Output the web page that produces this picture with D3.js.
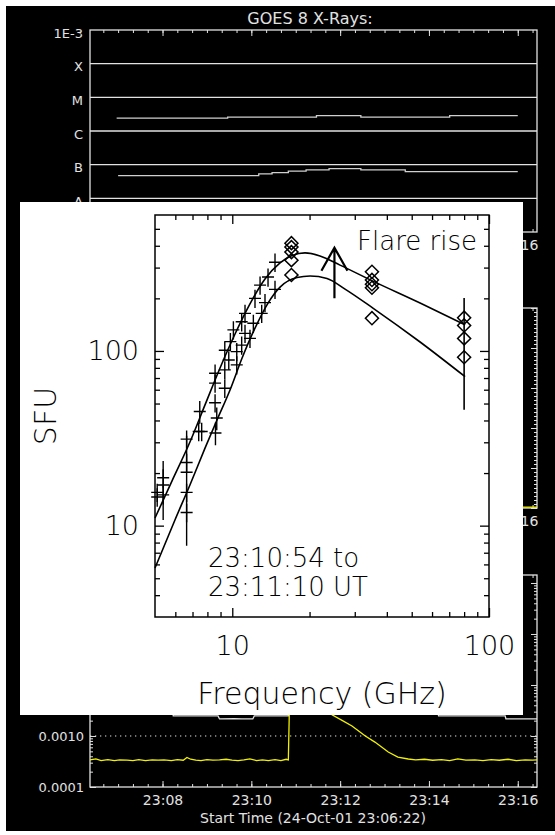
<!DOCTYPE html>
<html>
<head>
<meta charset="utf-8">
<script src="https://cdn.jsdelivr.net/npm/d3@7"></script>
<style>
  body { margin: 0; background: #fff; }
  svg { display: block; }
</style>
</head>
<body>
<div id="chart-area"></div>
<script>
const size = { width: 555, height: 835 };

// time axis: seconds after 23:06:22 UT on 24-Oct-2001
const startTime = Date.UTC(2001, 9, 24, 23, 6, 22);
const timeSpan = 604;

// GOES 8 panel
const goesLabels = ["1E-3", "X", "M", "C", "B", "A", "1E-9"];
const goesDecades = [1e-3, 1e-4, 1e-5, 1e-6, 1e-7, 1e-8, 1e-9];
const goesLongTime = [36, 186, 306, 366, 486, 578];
const goesLongFlux = [2.40e-6, 2.57e-6, 2.87e-6, 2.57e-6, 2.87e-6, 2.87e-6];
const goesShortTime = [38, 228, 246, 268, 292, 323, 366, 426, 578];
const goesShortFlux = [4.75e-8, 5.33e-8, 5.83e-8, 6.41e-8, 7.0e-8, 7.66e-8, 7.0e-8, 6.24e-8, 6.24e-8];

// middle panel (hidden behind the spectrum, only its right edge shows)
const midTime = [0, 604];
const midValue = [0.02, 0.02];

// bottom panel
const lowLabels = ["0.0001", "0.0010", "0.0100", "0.1000", "1.0000"];
const lowDecades = [1e-4, 1e-3, 1e-2, 1e-1, 1];
const yellowTime = [0, 8, 15, 24, 33, 40, 50, 58, 66, 75,
    84, 92, 100, 110, 118, 126, 131, 136, 143, 150,
    158, 166, 175, 184, 192, 200, 208, 216, 225, 233,
    241, 250, 258, 265, 268, 270, 273, 280, 300, 315,
    327, 340, 354, 372, 385, 403, 416, 430, 440, 452,
    463, 475, 486, 497, 508, 520, 531, 542, 553, 565,
    576, 588, 598, 604];
const yellowValue = [3.4e-4, 3.55e-4, 3.3e-4, 3.45e-4, 3.3e-4, 3.4e-4, 3.35e-4, 3.3e-4, 3.45e-4, 3.3e-4,
    3.4e-4, 3.35e-4, 3.4e-4, 3.3e-4, 3.45e-4, 3.35e-4, 3.8e-4, 3.5e-4, 3.35e-4, 3.3e-4,
    3.45e-4, 3.35e-4, 3.4e-4, 3.5e-4, 3.35e-4, 3.3e-4, 3.4e-4, 3.55e-4, 3.3e-4, 3.4e-4,
    3.3e-4, 3.45e-4, 3.3e-4, 3.5e-4, 3.4e-4, 9e-3, 0.04, 0.05, 0.02, 0.006,
    2.6e-3, 2.05e-3, 1.57e-3, 1.0e-3, 7.6e-4, 4.85e-4, 3.87e-4, 3.54e-4, 3.4e-4, 3.5e-4,
    3.35e-4, 3.45e-4, 3.3e-4, 3.55e-4, 3.35e-4, 3.4e-4, 3.3e-4, 3.45e-4, 3.35e-4, 3.5e-4,
    3.3e-4, 3.4e-4, 3.35e-4, 3.4e-4];
const whiteTime = [0, 60, 112, 112.5, 150, 173, 175, 195, 205, 220, 222,
    268, 270, 300, 380, 440, 470, 471, 530, 561, 562, 604];
const whiteValue = [2.95e-3, 2.9e-3, 2.9e-3, 2.47e-3, 2.47e-3, 2.47e-3, 2.16e-3, 2.2e-3, 2.16e-3, 2.16e-3, 2.47e-3,
    2.47e-3, 0.015, 0.03, 0.012, 4e-3, 3.0e-3, 2.47e-3, 2.47e-3, 2.47e-3, 2.16e-3, 2.16e-3];

// spectrum inset (GHz, SFU)
const ovsaFreq = [5.1, 5.1, 5.38, 5.38, 5.38, 6.64, 6.64, 6.64, 6.64, 6.64,
    7.47, 7.4, 7.6, 8.57, 8.57, 8.57, 8.7, 8.6, 9.35, 9.35,
    9.35, 9.69, 9.83, 10.1, 10.41, 10.41, 10.88, 10.88, 11.21, 11.21,
    11.72, 12.08, 12.26, 12.83, 13.02, 13.41, 13.78, 14.67, 14.67];
const ovsaFlux = [15.5, 14.6, 18.8, 17.1, 15.0, 31.3, 23.0, 20.2, 15.5, 11.9,
    45.0, 34.6, 34.6, 74.6, 65.4, 50.5, 41.3, 33.9, 101, 77.9,
    61.2, 88.8, 113, 132, 99.1, 83.2, 147, 108, 164, 126,
    118, 144, 200, 238, 164, 189, 265, 322, 225];
const ovsaErr = [0.12, 0.12, 0.12, 0.37, 0.12, 0.12, 0.12, 0.62, 0.12, 0.12,
    0.15, 0.12, 0.12, 0.12, 0.12, 0.12, 0.15, 0.15, 0.12, 0.12,
    0.12, 0.12, 0.12, 0.12, 0.12, 0.12, 0.12, 0.12, 0.12, 0.12,
    0.12, 0.12, 0.12, 0.12, 0.12, 0.12, 0.12, 0.12, 0.12];
const norpFreq = [17, 17, 17, 17, 17, 35, 35, 35, 35, 35, 80, 80, 80, 80];
const norpFlux = [414, 393, 368, 331, 272, 284, 255, 241, 230, 154, 155, 140, 118, 92];
const norpBarFreq = [80];
const norpBarLo = [46];
const norpBarHi = [201];
const upperFreq = [5.0, 5.82, 6.84, 7.83, 8.96, 10.25, 11.72, 13.41, 15.35, 17.09, 19.2, 21.96, 26.28, 35.3, 53.9, 80.7];
const upperFlux = [11.06, 18.0, 30.1, 49.1, 79.9, 125, 186, 258, 319, 352, 364, 350, 310, 251, 188, 141];
const lowerFreq = [5.0, 5.98, 6.84, 7.83, 8.72, 9.80, 10.92, 12.26, 13.78, 15.35, 17.87, 20.09, 23.39, 27.49, 35.3, 53.9, 80.7];
const lowerFlux = [5.72, 10.78, 17.08, 27.8, 40.3, 59.8, 91.1, 135, 188, 232, 263, 268.5, 260, 226, 176, 112.5, 71.2];
const freqTicks = [10, 100];
const freqMinor = [6, 7, 8, 9, 20, 30, 40, 50, 60, 70, 80, 90];
const fluxTicks = [10, 100];
const fluxMinor = [4, 5, 6, 7, 8, 9, 20, 30, 40, 50, 60, 70, 80, 90, 200, 300, 400, 500];
const arrowFreq = 25, arrowFrom = 200, arrowTo = 390;

const fg = "#e2e2e2";
const goesFont = "'DejaVu Sans', sans-serif";
const insetFont = "'DejaVu Sans', sans-serif";
const plotLeft = 90, plotRight = 537;
const insetBox = { x: 20, y: 202, width: 503, height: 513 };

const svg = d3.select("#chart-area").append("svg")
    .attr("width", size.width)
    .attr("height", size.height);

svg.append("rect").attr("width", size.width).attr("height", size.height).attr("fill", "#fff");
svg.append("rect").attr("x", 6).attr("y", 6)
    .attr("width", size.width - 6).attr("height", 825).attr("fill", "#000");

const toDate = s => new Date(startTime + s * 1000);
const t = d3.scaleUtc().domain([toDate(0), toDate(timeSpan)]).range([plotLeft, plotRight]);

const styleAxis = function (sel, color, font, fontSize, width) {
    sel.select(".domain").remove();
    sel.attr("color", color).attr("font-family", font).attr("font-size", fontSize);
    sel.selectAll("line").attr("stroke-width", width);
};

const logMinor = function (decades, max) {
    const out = [];
    decades.forEach(d => d3.range(2, 10).forEach(k => { if (d * k < max) out.push(d * k); }));
    return out;
};

// time labels under the inset are left out; only those reaching past it are drawn
const drawTimeFrame = function (top, bottom, underInset) {
    const g = svg.append("g");
    const fmt = d3.utcFormat("%H:%M");
    const bottomFormat = d => (underInset && t(d) + 20 < insetBox.x + insetBox.width) ? "" : fmt(d);
    [[d3.axisBottom, bottom], [d3.axisTop, top]].forEach(([axis, y]) => {
        g.append("g").attr("transform", `translate(0,${y})`)
            .call(axis(t).ticks(d3.utcSecond.every(20)).tickSize(-3).tickFormat(""))
            .call(styleAxis, fg, goesFont, 14, 1);
        g.append("g").attr("transform", `translate(0,${y})`)
            .call(axis(t).ticks(d3.utcMinute.every(2)).tickSize(-6).tickPadding(8)
                .tickFormat(axis === d3.axisBottom ? bottomFormat : ""))
            .call(styleAxis, fg, goesFont, 14, 1);
    });
    g.append("rect")
        .attr("x", plotLeft).attr("y", top)
        .attr("width", plotRight - plotLeft).attr("height", bottom - top)
        .attr("fill", "none").attr("stroke", fg).attr("stroke-width", 1.3);
    return g;
};

const drawYTicks = function (g, y, major, minor) {
    [[d3.axisLeft, plotLeft], [d3.axisRight, plotRight]].forEach(([axis, x]) => {
        g.append("g").attr("transform", `translate(${x},0)`)
            .call(axis(y).tickValues(minor).tickSize(-3).tickFormat(""))
            .call(styleAxis, fg, goesFont, 14, 1);
        g.append("g").attr("transform", `translate(${x},0)`)
            .call(axis(y).tickValues(major).tickSize(-6).tickFormat(""))
            .call(styleAxis, fg, goesFont, 14, 1);
    });
};

// ---------- GOES panel ----------
const goesY = d3.scaleLog().domain([1e-9, 1e-3]).range([232, 30]);
const goes = drawTimeFrame(30, 232, true);

goes.selectAll(".grid").data(goesDecades.slice(1, -1)).join("line")
    .attr("class", "grid")
    .attr("x1", plotLeft).attr("x2", plotRight)
    .attr("y1", d => goesY(d)).attr("y2", d => goesY(d))
    .attr("stroke", fg).attr("stroke-width", 1.3);

goes.selectAll(".class-label").data(goesDecades).join("text")
    .attr("class", "class-label")
    .attr("x", 83).attr("y", d => goesY(d) + 3).attr("dy", "0.35em")
    .attr("text-anchor", "end")
    .attr("fill", fg).attr("font-family", goesFont).attr("font-size", 13)
    .text((d, i) => goesLabels[i]);

svg.append("text")
    .attr("x", 310).attr("y", 24)
    .attr("text-anchor", "middle")
    .attr("fill", fg).attr("font-family", goesFont).attr("font-size", 16)
    .text("GOES 8 X-Rays:");

const goesLine = d3.line()
    .x(d => t(toDate(d[0])))
    .y(d => goesY(d[1]))
    .curve(d3.curveStepAfter);

[[goesLongTime, goesLongFlux], [goesShortTime, goesShortFlux]].forEach(([ts, vs]) => {
    goes.append("path")
        .attr("d", goesLine(d3.zip(ts, vs)))
        .attr("fill", "none").attr("stroke", "#cfcfcf").attr("stroke-width", 1.3);
});

// ---------- middle panel ----------
const midY = d3.scaleLinear().domain([0, 5]).range([508, 308]);
const mid = drawTimeFrame(308, 508, true);
drawYTicks(mid, midY, d3.range(0, 6), d3.range(0, 5, 0.1));
mid.append("path")
    .attr("d", d3.line().x(d => t(toDate(d[0]))).y(d => midY(d[1]))(d3.zip(midTime, midValue)))
    .attr("fill", "none").attr("stroke", "#f2f200").attr("stroke-width", 1.3);

// ---------- bottom panel ----------
const lowY = d3.scaleLog().domain([1e-4, 1.435]).range([787, 575]);
const low = drawTimeFrame(575, 787, false);
drawYTicks(low, lowY, lowDecades, logMinor(lowDecades, 1.435));

low.selectAll(".low-label").data(lowDecades).join("text")
    .attr("class", "low-label")
    .attr("x", 84).attr("y", d => lowY(d)).attr("dy", "0.35em")
    .attr("text-anchor", "end")
    .attr("fill", fg).attr("font-family", goesFont).attr("font-size", 13)
    .text((d, i) => lowLabels[i]);

low.append("line")
    .attr("x1", plotLeft).attr("x2", plotRight)
    .attr("y1", lowY(1e-3)).attr("y2", lowY(1e-3))
    .attr("stroke", fg).attr("stroke-dasharray", "1.3,3.7");

const lowLine = d3.line()
    .x(d => t(toDate(d[0])))
    .y(d => lowY(d[1]));

low.append("path")
    .attr("d", lowLine(d3.zip(whiteTime, whiteValue)))
    .attr("fill", "none").attr("stroke", fg).attr("stroke-width", 1.3);
low.append("path")
    .attr("d", lowLine(d3.zip(yellowTime, yellowValue)))
    .attr("fill", "none").attr("stroke", "#f2f200").attr("stroke-width", 1.3);

svg.append("text")
    .attr("x", 313).attr("y", 823)
    .attr("text-anchor", "middle")
    .attr("fill", fg).attr("font-family", goesFont).attr("font-size", 14)
    .text("Start Time (24-Oct-01 23:06:22)");

// ---------- spectrum inset ----------
const fx = d3.scaleLog().domain([5, 100]).range([155, 489]);
const fy = d3.scaleLog().domain([3, 600]).range([617, 215]);
const inset = svg.append("g");

inset.append("rect")
    .attr("x", insetBox.x).attr("y", insetBox.y)
    .attr("width", insetBox.width).attr("height", insetBox.height)
    .attr("fill", "#fff");

const insetAxis = function (axis, scale, pos, minor, major, labels) {
    const horizontal = axis === d3.axisBottom || axis === d3.axisTop;
    const tr = horizontal ? `translate(0,${pos})` : `translate(${pos},0)`;
    inset.append("g").attr("transform", tr)
        .call(axis(scale).tickValues(minor).tickSize(-5).tickFormat(""))
        .call(styleAxis, "#000", insetFont, 27, 1.3);
    inset.append("g").attr("transform", tr)
        .call(axis(scale).tickValues(major).tickSize(-9)
            .tickPadding(horizontal ? 19 : 16)
            .tickFormat(labels ? d3.format("d") : ""))
        .call(styleAxis, "#000", insetFont, 27, 1.3)
        .attr("font-weight", 200);
};

insetAxis(d3.axisBottom, fx, 617, freqMinor, freqTicks, true);
insetAxis(d3.axisTop, fx, 215, freqMinor, freqTicks, false);
insetAxis(d3.axisLeft, fy, 155, fluxMinor, fluxTicks, true);
insetAxis(d3.axisRight, fy, 489, fluxMinor, fluxTicks, false);

inset.append("rect")
    .attr("x", 155).attr("y", 215).attr("width", 334).attr("height", 402)
    .attr("fill", "none").attr("stroke", "#000").attr("stroke-width", 1.5);

const fitLine = d3.line()
    .x(d => fx(d[0]))
    .y(d => fy(d[1]))
    .curve(d3.curveMonotoneX);

[[upperFreq, upperFlux], [lowerFreq, lowerFlux]].forEach(([fs, vs]) => {
    inset.append("path")
        .attr("d", fitLine(d3.zip(fs, vs)))
        .attr("fill", "none").attr("stroke", "#000").attr("stroke-width", 1.6);
});

// OVSA points: plus sign with error bar
inset.selectAll(".ovsa").data(d3.range(ovsaFreq.length)).join("path")
    .attr("class", "ovsa")
    .attr("d", i => {
        const x = fx(ovsaFreq[i]), y = fy(ovsaFlux[i]);
        const y0 = fy(ovsaFlux[i] * (1 - ovsaErr[i])), y1 = fy(ovsaFlux[i] * (1 + ovsaErr[i]));
        return `M${x - 6},${y}H${x + 6}M${x},${y1}V${y0}`;
    })
    .attr("fill", "none").attr("stroke", "#000").attr("stroke-width", 1.4);

// NoRP points: diamonds
inset.selectAll(".norp-bar").data(d3.range(norpBarFreq.length)).join("line")
    .attr("class", "norp-bar")
    .attr("x1", i => fx(norpBarFreq[i])).attr("x2", i => fx(norpBarFreq[i]))
    .attr("y1", i => fy(norpBarLo[i])).attr("y2", i => fy(norpBarHi[i]))
    .attr("stroke", "#000").attr("stroke-width", 1.6);

const diamond = d3.symbol(d3.symbolSquare, 85);
inset.selectAll(".norp").data(d3.range(norpFreq.length)).join("path")
    .attr("class", "norp")
    .attr("d", diamond)
    .attr("transform", i => `translate(${fx(norpFreq[i])},${fy(norpFlux[i])}) rotate(45)`)
    .attr("fill", "none").attr("stroke", "#000").attr("stroke-width", 1.5);

// flare-rise arrow
const ax = fx(arrowFreq), ay0 = fy(arrowFrom), ay1 = fy(arrowTo);
inset.append("path")
    .attr("d", `M${ax},${ay0}V${ay1}M${ax - 13},${ay1 + 23}L${ax},${ay1}L${ax + 13},${ay1 + 23}`)
    .attr("fill", "none").attr("stroke", "#000").attr("stroke-width", 2.2);

const insetText = (x, y, str, anchor, fsize) => inset.append("text")
    .attr("x", x).attr("y", y).attr("text-anchor", anchor)
    .attr("font-family", insetFont).attr("font-size", fsize).attr("font-weight", 200)
    .attr("fill", "#000")
    .text(str);

insetText(477, 250, "Flare rise", "end", 26);
insetText(208, 567, "23:10:54 to", "start", 26);
insetText(208, 596, "23:11:10 UT", "start", 26);
insetText(322, 704, "Frequency (GHz)", "middle", 30);
insetText(0, 0, "SFU", "middle", 30)
    .attr("transform", "translate(56,416) rotate(-90)");
</script>
</body>
</html>
